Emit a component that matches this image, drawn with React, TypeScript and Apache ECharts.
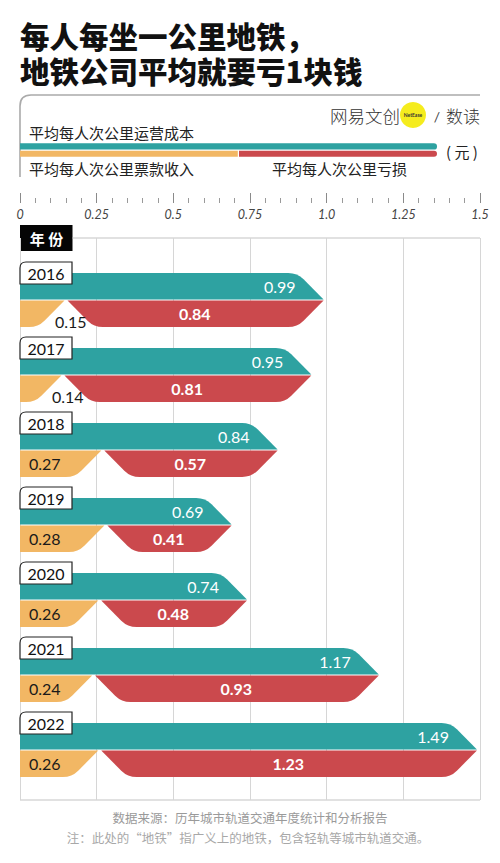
import React, { useEffect, useRef } from "react";
import * as echarts from "echarts";

const years = ["2016", "2017", "2018", "2019", "2020", "2021", "2022"];
const costPerKm = [0.99, 0.95, 0.84, 0.69, 0.74, 1.17, 1.49];
const incomePerKm = [0.15, 0.14, 0.27, 0.28, 0.26, 0.24, 0.26];
const lossPerKm = [0.84, 0.81, 0.57, 0.41, 0.48, 0.93, 1.23];
const tickLabels = ["0", "0.25", "0.5", "0.75", "1.0", "1.25", "1.5"];

const titleLines = ["每人每坐一公里地铁，", "地铁公司平均就要亏1块钱"];
const legendNames = ["平均每人次公里运营成本", "平均每人次公里票款收入", "平均每人次公里亏损"];
const unitText = "( 元 )";
const sourceText = "数据来源：历年城市轨道交通年度统计和分析报告";
const noteText = "注：此处的“地铁”指广义上的地铁，包含轻轨等城市轨道交通。";

const TEAL = "#2ea2a1";
const RED = "#cb494d";
const YELLOW = "#f2b764";
const CJK = "'Noto Sans CJK SC', 'Noto Sans', sans-serif";
const NUM = "Lato, 'Noto Sans', sans-serif";

let registered = false;
function registerShapes() {
  if (registered) return;
  registered = true;
  echarts.graphic.registerShape(
    "legendFrame",
    echarts.graphic.extendPath("M20 177 L20 106 Q20 95 31 95 L480 95", {})
  );
}

export default function App() {
  const ref = useRef<HTMLDivElement>(null);

  useEffect(() => {
    document.body.style.margin = "0";
    registerShapes();
    const chart = echarts.init(ref.current!, undefined, { renderer: "svg" });

    const data = years.map((_, i) => [i, costPerKm[i], incomePerKm[i], lossPerKm[i]]);

    const renderItem = (params: any, api: any) => {
      const i = api.value(0);
      const cost = api.value(1);
      const inc = api.value(2);
      const loss = api.value(3);
      const [x0, cy] = api.coord([0, i]);
      const xe = api.coord([cost, i])[0];
      const xi = api.coord([inc, i])[0];
      const xr = api.coord([inc + loss, i])[0];
      const T1 = cy - 27;
      const B1 = cy - 0.6;
      const T2 = cy + 0.6;
      const B2 = cy + 27;
      const h = 26.4;
      const r = 9;
      const k = 0.7071;
      const g = 1.5;

      const teal = `M${x0} ${T1} L${xe - h - r} ${T1} Q${xe - h} ${T1} ${xe - h + r * k} ${T1 + r * k} L${xe} ${B1} L${x0} ${B1} Z`;
      const xl = xi + g;
      const red = `M${xl} ${T2} L${xr} ${T2} L${xr - h + r * k} ${B2 - r * k} Q${xr - h} ${B2} ${xr - h - r} ${B2} L${xl + h + r} ${B2} Q${xl + h} ${B2} ${xl + h - r * k} ${B2 - r * k} Z`;
      const xy = xi - g;
      const yellow = `M${x0} ${T2} L${xy} ${T2} L${xy - h + r * k} ${B2 - r * k} Q${xy - h} ${B2} ${xy - h - r} ${B2} L${x0} ${B2} Z`;

      const smallInc = inc < 0.2;
      const by = cy - 38;
      const bb = cy - 16;
      const bw = 52;
      const box = `M${x0} ${bb} L${x0} ${by + 6} Q${x0} ${by} ${x0 + 6} ${by} L${x0 + bw} ${by} L${x0 + bw} ${bb} Z`;

      return {
        type: "group",
        children: [
          { type: "path", shape: { pathData: teal }, style: { fill: TEAL } },
          { type: "path", shape: { pathData: yellow }, style: { fill: YELLOW } },
          { type: "path", shape: { pathData: red }, style: { fill: RED } },
          {
            type: "text",
            style: {
              text: cost.toFixed(2),
              x: xe - 28,
              y: (T1 + B1) / 2,
              fill: "#ffffff",
              fontSize: 16,
              fontFamily: NUM,
              align: "right",
              verticalAlign: "middle",
            },
          },
          {
            type: "text",
            style: {
              text: loss.toFixed(2),
              x: (xi + xr) / 2,
              y: (T2 + B2) / 2,
              fill: "#ffffff",
              fontSize: 16,
              fontWeight: "bold",
              fontFamily: NUM,
              align: "center",
              verticalAlign: "middle",
            },
          },
          {
            type: "text",
            style: {
              text: inc.toFixed(2),
              x: smallInc ? xi - 11 : x0 + 9,
              y: smallInc ? cy + 21 : (T2 + B2) / 2,
              fill: "#1a1a1a",
              fontSize: 16,
              fontFamily: NUM,
              align: "left",
              verticalAlign: "middle",
            },
          },
          {
            type: "path",
            shape: { pathData: box },
            style: { fill: "#ffffff", stroke: "#222222", lineWidth: 1.2 },
          },
          {
            type: "text",
            style: {
              text: years[params.dataIndex],
              x: x0 + bw / 2,
              y: (by + bb) / 2 + 0.5,
              fill: "#111111",
              fontSize: 16,
              fontFamily: NUM,
              align: "center",
              verticalAlign: "middle",
            },
          },
        ],
      };
    };

    const option: any = {
      animation: false,
      backgroundColor: "#ffffff",
      grid: [
        { left: 20, right: 20, top: 193, height: 10 },
        { left: 20, right: 20, top: 238, bottom: 63 },
        { left: 20, right: 20, top: 262.5, bottom: 75.5 },
      ],
      xAxis: [
        {
          gridIndex: 0,
          type: "value",
          min: 0,
          max: 1.5,
          interval: 0.25,
          position: "bottom",
          axisLine: { show: false },
          axisTick: { show: true, inside: true, length: 10, lineStyle: { color: "#8a8a8a", width: 1 } },
          minorTick: { show: true, splitNumber: 5, length: 5, lineStyle: { color: "#9a9a9a", width: 1 } },
          axisLabel: {
            margin: 5,
            color: "#444444",
            fontSize: 12.5,
            fontStyle: "italic",
            fontFamily: NUM,
            formatter: (v: number) => tickLabels[Math.round(v / 0.25)] ?? String(v),
          },
          splitLine: { show: false },
        },
        {
          gridIndex: 1,
          type: "value",
          min: 0,
          max: 1.5,
          interval: 0.25,
          axisLine: { show: false },
          axisTick: { show: false },
          axisLabel: { show: false },
          splitLine: { show: true, lineStyle: { color: "#d6d6d6", width: 1 } },
        },
        { gridIndex: 2, type: "value", min: 0, max: 1.5, show: false },
      ],
      yAxis: [
        { gridIndex: 0, type: "value", show: false },
        { gridIndex: 1, type: "value", show: false },
        { gridIndex: 2, type: "category", data: years, inverse: true, show: false },
      ],
      series: [
        {
          type: "custom",
          xAxisIndex: 2,
          yAxisIndex: 2,
          data,
          renderItem,
          clip: false,
        },
      ],
      graphic: [
        {
          type: "text",
          x: 20,
          y: 35,
          style: {
            text: titleLines[0],
            fill: "#111111",
            fontSize: 29.5,
            lineHeight: 30,
            fontWeight: 900,
            fontFamily: CJK,
            verticalAlign: "middle",
          },
        },
        {
          type: "text",
          x: 20,
          y: 70,
          style: {
            text: titleLines[1],
            fill: "#111111",
            fontSize: 29.5,
            lineHeight: 30,
            fontWeight: 900,
            fontFamily: CJK,
            verticalAlign: "middle",
          },
        },
        {
          type: "legendFrame",
          x: 0,
          y: 0,
          style: { fill: "none", stroke: "#aaaaaa", lineWidth: 1.6 },
        },
        {
          type: "text",
          x: 330,
          y: 115,
          style: { text: "网易文创", fill: "#333333", fontSize: 17.5, fontFamily: CJK, fontWeight: 300, verticalAlign: "middle" },
        },
        { type: "circle", shape: { cx: 413, cy: 115, r: 13 }, style: { fill: "#f5ec1e" } },
        {
          type: "text",
          x: 413,
          y: 115,
          style: { text: "NetEase", fill: "#333333", fontSize: 5, fontWeight: "bold", fontFamily: NUM, align: "center", verticalAlign: "middle" },
        },
        {
          type: "text",
          x: 437,
          y: 116,
          style: { text: "/", fill: "#444444", fontSize: 14, fontFamily: NUM, align: "center", verticalAlign: "middle" },
        },
        {
          type: "text",
          x: 446,
          y: 115,
          style: { text: "数读", fill: "#333333", fontSize: 17, fontFamily: CJK, fontWeight: 300, verticalAlign: "middle" },
        },
        {
          type: "text",
          x: 29,
          y: 132,
          style: { text: legendNames[0], fill: "#222222", fontSize: 15, fontFamily: CJK, verticalAlign: "middle" },
        },
        {
          type: "rect",
          shape: { x: 20, y: 143.2, width: 417, height: 6.4, r: [0, 3.2, 3.2, 0] },
          style: { fill: TEAL },
        },
        {
          type: "rect",
          shape: { x: 20, y: 150.8, width: 217.8, height: 6, r: 0 },
          style: { fill: YELLOW },
        },
        {
          type: "rect",
          shape: { x: 239, y: 150.8, width: 198, height: 6, r: [0, 3, 3, 0] },
          style: { fill: RED },
        },
        {
          type: "text",
          x: 29,
          y: 168,
          style: { text: legendNames[1], fill: "#222222", fontSize: 15, fontFamily: CJK, verticalAlign: "middle" },
        },
        {
          type: "text",
          x: 272,
          y: 168,
          style: { text: legendNames[2], fill: "#222222", fontSize: 15, fontFamily: CJK, verticalAlign: "middle" },
        },
        {
          type: "text",
          x: 446,
          y: 151,
          style: { text: unitText, fill: "#222222", fontSize: 15, fontFamily: CJK, verticalAlign: "middle" },
        },
        {
          type: "rect",
          shape: { x: 20, y: 225, width: 52.5, height: 26 },
          style: { fill: "#050505" },
        },
        {
          type: "text",
          x: 46.5,
          y: 238,
          style: { text: "年 份", fill: "#ffffff", fontSize: 15, fontWeight: "bold", fontFamily: CJK, align: "center", verticalAlign: "middle" },
        },
        {
          type: "line",
          shape: { x1: 72.5, y1: 238, x2: 480, y2: 238 },
          style: { stroke: "#c4c4c4", lineWidth: 1.2 },
        },
        {
          type: "line",
          shape: { x1: 20, y1: 800, x2: 480, y2: 800 },
          style: { stroke: "#c4c4c4", lineWidth: 1.2 },
        },
        {
          type: "text",
          x: 250,
          y: 817,
          style: { text: sourceText, fill: "#9a9a9a", fontSize: 12.5, fontFamily: CJK, align: "center", verticalAlign: "middle" },
        },
        {
          type: "text",
          x: 248,
          y: 837,
          style: { text: noteText, fill: "#a8a8a8", fontSize: 12.5, fontFamily: CJK, align: "center", verticalAlign: "middle" },
        },
      ],
    };

    chart.setOption(option);
    return () => chart.dispose();
  }, []);

  return <div ref={ref} style={{ width: 500, height: 863 }} />;
}
